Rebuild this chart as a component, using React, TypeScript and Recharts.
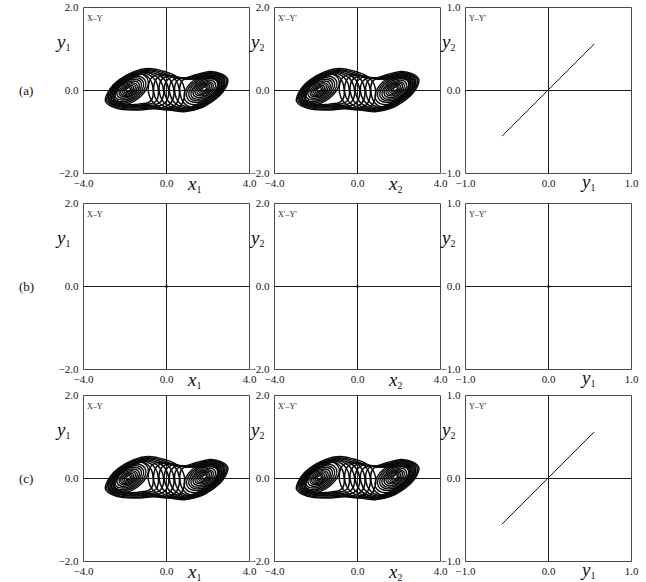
import { LineChart, Line, XAxis, YAxis, ReferenceLine, ReferenceArea } from 'recharts';

type P = [number, number];

// left scroll: wide orbits that run along the top and fold back down through the centre band
const leftWide0: P[] = [[-2.95, -0.24], [-2.72, 0.04], [-2.3, 0.25], [-1.6, 0.45], [-0.85, 0.53], [-0.05, 0.45], [0.5, 0.33], [0.8, 0.15], [0.88, -0.1], [0.7, -0.35], [0.2, -0.47], [-0.6, -0.44], [-1.4, -0.47], [-2.1, -0.46], [-2.65, -0.38]];
const leftWide1: P[] = [[-2.88, -0.23], [-2.66, 0.04], [-2.26, 0.23], [-1.6, 0.42], [-0.9, 0.5], [-0.15, 0.43], [0.32, 0.32], [0.56, 0.14], [0.62, -0.1], [0.45, -0.33], [0.0, -0.44], [-0.7, -0.42], [-1.4, -0.45], [-2.08, -0.44], [-2.6, -0.36]];
const leftWide2: P[] = [[-2.8, -0.22], [-2.6, 0.04], [-2.22, 0.22], [-1.6, 0.4], [-0.95, 0.48], [-0.3, 0.41], [0.1, 0.3], [0.3, 0.13], [0.36, -0.1], [0.2, -0.31], [-0.2, -0.41], [-0.8, -0.4], [-1.4, -0.42], [-2.05, -0.41], [-2.55, -0.34]];
const leftWide3: P[] = [[-2.73, -0.21], [-2.54, 0.04], [-2.18, 0.21], [-1.6, 0.38], [-1.0, 0.46], [-0.45, 0.39], [-0.12, 0.28], [0.06, 0.12], [0.11, -0.1], [-0.05, -0.29], [-0.4, -0.38], [-0.9, -0.38], [-1.45, -0.4], [-2.02, -0.39], [-2.5, -0.32]];
const leftWide4: P[] = [[-2.66, -0.2], [-2.48, 0.04], [-2.14, 0.2], [-1.6, 0.36], [-1.05, 0.44], [-0.6, 0.37], [-0.33, 0.26], [-0.18, 0.11], [-0.14, -0.1], [-0.28, -0.27], [-0.58, -0.35], [-1.0, -0.36], [-1.48, -0.38], [-2.0, -0.37], [-2.45, -0.3]];
const leftWide5: P[] = [[-2.58, -0.19], [-2.42, 0.04], [-2.1, 0.19], [-1.6, 0.34], [-1.1, 0.42], [-0.75, 0.35], [-0.53, 0.24], [-0.42, 0.1], [-0.39, -0.1], [-0.5, -0.25], [-0.75, -0.32], [-1.1, -0.34], [-1.5, -0.36], [-1.97, -0.35], [-2.4, -0.28]];
const leftWide6: P[] = [[-2.5, -0.18], [-2.35, 0.04], [-2.06, 0.18], [-1.6, 0.32], [-1.15, 0.4], [-0.9, 0.33], [-0.74, 0.22], [-0.66, 0.09], [-0.64, -0.1], [-0.72, -0.23], [-0.92, -0.3], [-1.2, -0.32], [-1.55, -0.34], [-1.94, -0.33], [-2.34, -0.26]];

// left scroll: tight orbits round the left equilibrium
const leftRing0: P[] = [[-0.93, 0.29], [-1.42, 0.4], [-2.16, 0.29], [-2.72, 0.02], [-2.77, -0.25], [-2.28, -0.36], [-1.54, -0.25], [-0.98, 0.02]];
const leftRing1: P[] = [[-1.04, 0.25], [-1.47, 0.35], [-2.13, 0.26], [-2.62, 0.02], [-2.66, -0.21], [-2.23, -0.31], [-1.58, -0.22], [-1.08, 0.02]];
const leftRing2: P[] = [[-1.14, 0.22], [-1.52, 0.31], [-2.09, 0.23], [-2.52, 0.02], [-2.56, -0.18], [-2.18, -0.27], [-1.61, -0.19], [-1.18, 0.02]];
const leftRing3: P[] = [[-1.24, 0.2], [-1.57, 0.27], [-2.06, 0.2], [-2.42, 0.02], [-2.46, -0.16], [-2.13, -0.23], [-1.64, -0.16], [-1.28, 0.02]];
const leftRing4: P[] = [[-1.34, 0.17], [-1.61, 0.23], [-2.03, 0.17], [-2.34, 0.02], [-2.36, -0.13], [-2.09, -0.19], [-1.68, -0.13], [-1.36, 0.02]];
const leftRing5: P[] = [[-1.43, 0.14], [-1.65, 0.19], [-1.99, 0.15], [-2.25, 0.02], [-2.27, -0.1], [-2.05, -0.15], [-1.71, -0.11], [-1.45, 0.02]];
const leftRing6: P[] = [[-1.51, 0.12], [-1.69, 0.16], [-1.97, 0.12], [-2.17, 0.02], [-2.19, -0.08], [-2.01, -0.12], [-1.73, -0.08], [-1.53, 0.02]];
const leftRing7: P[] = [[-1.59, 0.09], [-1.73, 0.13], [-1.94, 0.1], [-2.09, 0.02], [-2.11, -0.05], [-1.97, -0.09], [-1.76, -0.06], [-1.61, 0.02]];
const leftRing8: P[] = [[-1.67, 0.07], [-1.76, 0.1], [-1.91, 0.07], [-2.02, 0.02], [-2.03, -0.03], [-1.94, -0.06], [-1.79, -0.03], [-1.68, 0.02]];
const leftRing9: P[] = [[-1.74, 0.05], [-1.8, 0.07], [-1.89, 0.05], [-1.95, 0.02], [-1.96, -0.01], [-1.9, -0.03], [-1.81, -0.01], [-1.75, 0.02]];

// right scroll: wide orbits that run along the bottom and fold back up through the centre band
const rightWide0: P[] = [[2.96, 0.25], [2.74, -0.02], [2.3, -0.23], [1.6, -0.43], [0.85, -0.51], [0.05, -0.46], [-0.5, -0.35], [-0.8, -0.17], [-0.88, 0.08], [-0.7, 0.32], [-0.2, 0.4], [0.5, 0.32], [0.9, 0.3], [1.4, 0.38], [2.1, 0.46], [2.65, 0.4]];
const rightWide1: P[] = [[2.89, 0.24], [2.68, -0.02], [2.26, -0.21], [1.6, -0.41], [0.9, -0.49], [0.15, -0.43], [-0.32, -0.32], [-0.56, -0.15], [-0.62, 0.08], [-0.45, 0.3], [0.0, 0.37], [0.55, 0.31], [0.95, 0.29], [1.4, 0.35], [2.08, 0.43], [2.6, 0.38]];
const rightWide2: P[] = [[2.81, 0.23], [2.62, -0.02], [2.22, -0.2], [1.6, -0.39], [0.95, -0.47], [0.3, -0.41], [-0.1, -0.3], [-0.3, -0.13], [-0.36, 0.08], [-0.2, 0.28], [0.2, 0.35], [0.65, 0.3], [1.0, 0.28], [1.4, 0.33], [2.05, 0.4], [2.55, 0.36]];
const rightWide3: P[] = [[2.74, 0.22], [2.56, -0.02], [2.18, -0.19], [1.6, -0.37], [1.0, -0.45], [0.45, -0.39], [0.12, -0.28], [-0.06, -0.12], [-0.11, 0.08], [0.05, 0.26], [0.4, 0.33], [0.8, 0.29], [1.1, 0.28], [1.45, 0.31], [2.02, 0.37], [2.5, 0.34]];
const rightWide4: P[] = [[2.67, 0.21], [2.5, -0.02], [2.14, -0.18], [1.6, -0.35], [1.05, -0.43], [0.6, -0.37], [0.33, -0.26], [0.18, -0.11], [0.14, 0.08], [0.28, 0.24], [0.58, 0.31], [0.95, 0.29], [1.2, 0.28], [1.5, 0.3], [2.0, 0.34], [2.45, 0.32]];
const rightWide5: P[] = [[2.59, 0.2], [2.44, -0.02], [2.1, -0.17], [1.6, -0.33], [1.1, -0.41], [0.75, -0.35], [0.53, -0.24], [0.42, -0.1], [0.39, 0.08], [0.5, 0.23], [0.75, 0.3], [1.05, 0.29], [1.3, 0.28], [1.55, 0.29], [1.97, 0.31], [2.4, 0.3]];
const rightWide6: P[] = [[2.51, 0.19], [2.37, -0.02], [2.06, -0.16], [1.6, -0.31], [1.15, -0.39], [0.9, -0.33], [0.74, -0.22], [0.66, -0.09], [0.64, 0.08], [0.72, 0.21], [0.92, 0.28], [1.2, 0.29], [1.55, 0.28], [1.94, 0.29], [2.34, 0.28]];

// right scroll: tight orbits round the right equilibrium
const rightRing0: P[] = [[2.74, 0.31], [2.25, 0.42], [1.51, 0.31], [0.95, 0.04], [0.9, -0.23], [1.39, -0.34], [2.13, -0.23], [2.69, 0.04]];
const rightRing1: P[] = [[2.63, 0.27], [2.2, 0.37], [1.55, 0.28], [1.05, 0.04], [1.01, -0.19], [1.44, -0.29], [2.1, -0.2], [2.59, 0.04]];
const rightRing2: P[] = [[2.53, 0.24], [2.15, 0.33], [1.58, 0.25], [1.15, 0.04], [1.11, -0.16], [1.49, -0.25], [2.06, -0.17], [2.49, 0.04]];
const rightRing3: P[] = [[2.43, 0.22], [2.1, 0.29], [1.61, 0.22], [1.25, 0.04], [1.21, -0.14], [1.54, -0.21], [2.03, -0.14], [2.39, 0.04]];
const rightRing4: P[] = [[2.33, 0.19], [2.06, 0.25], [1.65, 0.19], [1.33, 0.04], [1.31, -0.11], [1.58, -0.17], [1.99, -0.11], [2.31, 0.04]];
const rightRing5: P[] = [[2.24, 0.16], [2.02, 0.21], [1.68, 0.17], [1.42, 0.04], [1.4, -0.08], [1.62, -0.13], [1.96, -0.09], [2.22, 0.04]];
const rightRing6: P[] = [[2.16, 0.14], [1.98, 0.18], [1.7, 0.14], [1.5, 0.04], [1.48, -0.06], [1.66, -0.1], [1.94, -0.06], [2.14, 0.04]];
const rightRing7: P[] = [[2.08, 0.11], [1.94, 0.15], [1.73, 0.12], [1.58, 0.04], [1.56, -0.03], [1.7, -0.07], [1.91, -0.04], [2.06, 0.04]];
const rightRing8: P[] = [[2.0, 0.09], [1.91, 0.12], [1.76, 0.09], [1.65, 0.04], [1.64, -0.01], [1.73, -0.04], [1.88, -0.01], [1.99, 0.04]];
const rightRing9: P[] = [[1.93, 0.07], [1.87, 0.09], [1.78, 0.07], [1.72, 0.04], [1.71, 0.01], [1.77, 0.0], [1.86, 0.01], [1.92, 0.04]];

const wideOrbits: P[][] = [
  leftWide0, leftWide1, leftWide2, leftWide3, leftWide4, leftWide5, leftWide6,
  rightWide0, rightWide1, rightWide2, rightWide3, rightWide4, rightWide5, rightWide6,
];
const ringOrbits: P[][] = [
  leftRing0, leftRing1, leftRing2, leftRing3, leftRing4, leftRing5, leftRing6, leftRing7, leftRing8, leftRing9,
  rightRing0, rightRing1, rightRing2, rightRing3, rightRing4, rightRing5, rightRing6, rightRing7, rightRing8, rightRing9,
];

// y1 against y2 when the two circuits are in step
const syncDiag: P[] = [[-0.56, -0.55], [0.55, 0.56]];
const restPoint: P[] = [[0, 0]];

const wideX = [-4, 0, 4];
const wideY = [-2, 0, 2];
const unitTicks = [-1, 0, 1];

const rowTops = [7, 203, 395];
const rowNames = ['(a)', '(b)', '(c)'];
const colLefts = [83, 274, 465];

const serif = '"Liberation Serif", "Times New Roman", serif';
const tickStyle = { fontSize: 11, fill: '#151515', fontFamily: serif };

const fmt = (v: number) => (v < 0 ? '\u2212' : '') + Math.abs(v).toFixed(1);
const pts = (a: P[]) => a.map(([x, y]) => ({ x, y }));

// closed Catmull-Rom curve through every point (orbits are closed loops)
const closedSpline = (ctx: any) => {
  let p: number[][] = [];
  return {
    areaStart() {},
    areaEnd() {},
    lineStart() { p = []; },
    point(x: number, y: number) { p.push([+x, +y]); },
    lineEnd() {
      const n = p.length;
      if (!n) return;
      ctx.moveTo(p[0][0], p[0][1]);
      for (let i = 0; i < n; i++) {
        const a = p[(i - 1 + n) % n], b = p[i], c = p[(i + 1) % n], d = p[(i + 2) % n];
        ctx.bezierCurveTo(
          b[0] + (c[0] - a[0]) / 6, b[1] + (c[1] - a[1]) / 6,
          c[0] - (d[0] - b[0]) / 6, c[1] - (d[1] - b[1]) / 6,
          c[0], c[1],
        );
      }
      ctx.closePath();
    },
  };
};

type PanelProps = {
  left: number;
  top: number;
  xd: [number, number];
  yd: [number, number];
  xt: number[];
  yt: number[];
  chaotic?: boolean;
  path?: P[];
  dot?: P[];
};

function Panel({ left, top, xd, yd, xt, yt, chaotic, path, dot }: PanelProps) {
  return (
    <div style={{ position: 'absolute', left: left - 40, top: top - 8 }}>
      <LineChart width={220} height={200} margin={{ top: 8.5, right: 13.5, bottom: 0, left: 0.5 }}>
        <XAxis type="number" dataKey="x" domain={xd} ticks={xt} interval={0} allowDataOverflow
          tickFormatter={fmt} tickLine={false} axisLine={false} tickSize={6} tickMargin={0} height={25.5} tick={tickStyle} />
        <YAxis type="number" domain={yd} ticks={yt} interval={0} allowDataOverflow
          tickFormatter={fmt} tickLine={false} axisLine={false} tickSize={3} tickMargin={2} width={40} tick={tickStyle} />
        <ReferenceArea x1={xd[0]} x2={xd[1]} y1={yd[0]} y2={yd[1]} fill="none" stroke="#4a4a4a" strokeWidth={1} />
        <ReferenceLine x={0} stroke="#1a1a1a" strokeWidth={1} />
        <ReferenceLine y={0} stroke="#1a1a1a" strokeWidth={1} />
        {chaotic && wideOrbits.map((lp, i) => (
          <Line key={`w${i}`} data={pts(lp)} dataKey="y" type={closedSpline as any} stroke="#0a0a0a" strokeWidth={1.5}
            dot={false} activeDot={false} isAnimationActive={false} />
        ))}
        {chaotic && ringOrbits.map((lp, i) => (
          <Line key={`r${i}`} data={pts(lp)} dataKey="y" type={closedSpline as any} stroke="#0a0a0a" strokeWidth={1.35}
            dot={false} activeDot={false} isAnimationActive={false} />
        ))}
        {path && (
          <Line data={pts(path)} dataKey="y" type="linear" stroke="#111" strokeWidth={1}
            dot={false} activeDot={false} isAnimationActive={false} />
        )}
        {dot && (
          <Line data={pts(dot)} dataKey="y" type="linear" stroke="none"
            dot={{ r: 1.3, fill: '#000', stroke: 'none' }} activeDot={false} isAnimationActive={false} />
        )}
      </LineChart>
    </div>
  );
}

function AxisName({ x, y, base, sub }: { x: number; y: number; base: string; sub: string }) {
  return (
    <text x={x} y={y} fontFamily={serif} fill="#111">
      <tspan fontSize={19} fontStyle="italic">{base}</tspan>
      <tspan fontSize={10} dy={3}>{sub}</tspan>
    </text>
  );
}

export default function App() {
  return (
    <div style={{ position: 'absolute', left: 0, top: 0, width: 646, height: 582, background: '#fff', overflow: 'hidden' }}>
      {rowTops.map((top, r) => {
        const moving = r !== 1;
        return (
          <div key={r}>
            <Panel left={colLefts[0]} top={top} xd={[-4, 4]} yd={[-2, 2]} xt={wideX} yt={wideY}
              chaotic={moving} dot={moving ? undefined : restPoint} />
            <Panel left={colLefts[1]} top={top} xd={[-4, 4]} yd={[-2, 2]} xt={wideX} yt={wideY}
              chaotic={moving} dot={moving ? undefined : restPoint} />
            <Panel left={colLefts[2]} top={top} xd={[-1, 1]} yd={[-1, 1]} xt={unitTicks} yt={unitTicks}
              path={moving ? syncDiag : undefined} dot={moving ? undefined : restPoint} />
          </div>
        );
      })}
      <svg width={646} height={582} style={{ position: 'absolute', left: 0, top: 0, pointerEvents: 'none' }}>
        {rowTops.map((top, r) => {
          const dy = top - 7;
          return (
            <g key={r}>
              <text x={19} y={95 + dy} fontFamily={serif} fontSize={13} fill="#111">{rowNames[r]}</text>
              <text x={87} y={21 + dy} fontFamily={serif} fontSize={8} fill="#222">X–Y</text>
              <text x={278} y={21 + dy} fontFamily={serif} fontSize={8} fill="#222">X′–Y′</text>
              <text x={469} y={21 + dy} fontFamily={serif} fontSize={8} fill="#222">Y–Y′</text>
              <AxisName x={57} y={48 + dy} base="y" sub="1" />
              <AxisName x={251} y={48 + dy} base="y" sub="2" />
              <AxisName x={442} y={48 + dy} base="y" sub="2" />
              <AxisName x={188} y={190 + dy} base="x" sub="1" />
              <AxisName x={389} y={190 + dy} base="x" sub="2" />
              <AxisName x={582} y={188 + dy} base="y" sub="1" />
            </g>
          );
        })}
      </svg>
    </div>
  );
}
